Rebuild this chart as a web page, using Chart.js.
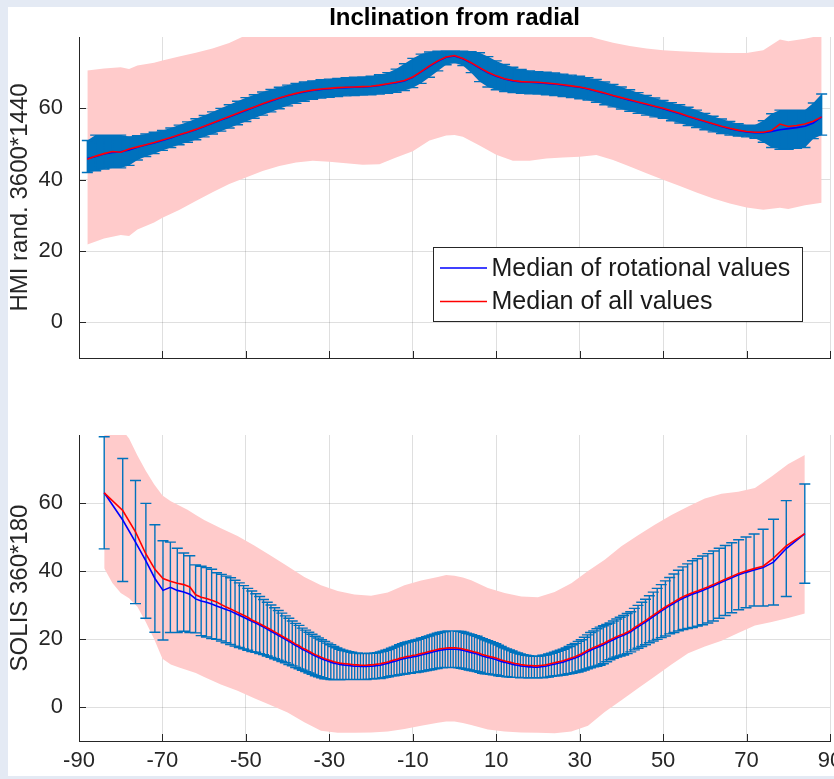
<!DOCTYPE html>
<html>
<head>
<meta charset="utf-8">
<title>Inclination from radial</title>
<script src="https://cdn.jsdelivr.net/npm/chart.js@4.4.1/dist/chart.umd.min.js"></script>
<style>
  html, body { margin: 0; padding: 0; background: #e4eaf4; }
  body { width: 834px; height: 779px; position: relative; overflow: hidden; }
  #sheet { position: absolute; left: 8px; top: 7px; width: 826px; height: 769px; background: #ffffff; }
  #hmi { position: absolute; left: 0; top: 0; }
  #solis { position: absolute; left: 0; top: 380px; }
</style>
</head>
<body>
<div id="sheet"></div>
<canvas id="hmi" width="834" height="380"></canvas>
<canvas id="solis" width="834" height="399"></canvas>
<script>
// ---- axis ticks ----
const xTickValues = [-90, -70, -50, -30, -10, 10, 30, 50, 70, 90];
const yTickValues = [0, 20, 40, 60];

// ---- HMI (3600*1440) panel ----
const hmiLat = [-88,-86,-84,-82,-80,-78,-76,-74,-72,-70,-68,-66,-64,-62,-60,-58,-56,-54,-52,-50,
  -48,-46,-44,-42,-40,-38,-36,-34,-32,-30,-28,-26,-24,-22,-20,-18,-16,-14,-12,-10,
  -8,-6,-4,-2,0,2,4,6,8,10,12,14,16,18,20,22,24,26,28,30,
  32,34,36,38,40,42,44,46,48,50,52,54,56,58,60,62,64,66,68,70,
  72,74,76,78,80,82,84,86,88];
const hmiRotational = [45.9,46.5,47.2,47.6,47.8,48.3,49.1,49.7,50.3,51.0,51.7,52.5,53.2,54.0,54.9,55.8,56.7,57.6,58.5,59.4,
  60.3,61.2,62.0,62.8,63.5,64.1,64.6,65.0,65.3,65.5,65.7,65.8,65.9,66.0,66.1,66.4,66.8,67.2,67.7,68.7,
  70.2,71.8,73.2,74.3,74.7,73.9,72.7,71.3,70.0,69.0,68.2,67.7,67.4,67.3,67.2,67.0,66.8,66.5,66.2,65.9,
  65.4,64.8,64.2,63.5,62.9,62.3,61.7,61.1,60.5,59.9,59.2,58.5,57.7,57.0,56.3,55.6,54.9,54.3,53.8,53.4,
  53.2,53.2,53.5,54.0,54.3,54.6,55.0,55.9,57.6];
const hmiAll = [45.7,46.6,47.3,47.9,47.7,48.6,49.2,49.8,50.4,51.1,51.8,52.6,53.3,54.1,55.0,55.9,56.8,57.7,58.6,59.5,
  60.4,61.3,62.1,62.9,63.6,64.2,64.7,65.1,65.4,65.6,65.8,65.9,66.0,66.1,66.2,66.5,66.9,67.3,67.8,68.8,
  70.3,71.9,73.3,74.4,74.8,74.0,72.8,71.4,70.1,69.1,68.3,67.8,67.5,67.4,67.3,67.1,66.9,66.6,66.3,66.0,
  65.5,64.9,64.3,63.6,63.0,62.4,61.8,61.2,60.6,60.0,59.3,58.6,57.8,57.1,56.4,55.7,55.0,54.4,53.9,53.5,
  53.3,53.3,53.8,55.6,54.9,55.2,55.6,56.4,57.6];
const hmiBarLow = [42.0,42.5,43.0,43.3,43.3,44.0,45.5,46.5,47.3,48.2,49.0,49.8,50.5,51.2,52.0,52.8,53.6,54.5,55.4,56.3,
  57.2,58.1,59.0,59.9,60.7,61.4,62.0,62.5,62.9,63.1,63.3,63.5,63.6,63.7,63.8,64.0,64.2,64.5,65.0,65.8,
  67.0,68.7,70.5,72.2,72.8,72.0,70.0,67.5,66.0,65.2,64.7,64.4,64.2,64.1,64.0,63.8,63.6,63.3,63.0,62.7,
  62.3,61.7,61.0,60.4,59.8,59.2,58.6,58.1,57.6,57.2,56.5,55.9,55.2,54.6,54.0,53.4,52.9,52.5,52.2,52.0,
  51.6,50.5,49.0,48.5,48.5,48.8,49.0,51.5,52.5];
const hmiBarHigh = [51.0,52.5,52.5,52.5,52.5,52.0,52.3,52.8,53.3,53.8,54.5,55.3,56.2,57.1,58.0,59.0,60.0,61.0,62.0,63.0,
  63.8,64.6,65.3,65.9,66.5,67.0,67.4,67.7,68.0,68.2,68.4,68.6,68.7,68.8,69.0,69.4,70.0,71.0,72.5,74.0,
  75.2,75.8,76.0,76.1,76.1,76.0,75.9,75.6,74.5,73.3,72.3,71.5,70.9,70.5,70.3,70.1,69.9,69.6,69.3,69.0,
  68.6,68.1,67.4,66.7,66.0,65.2,64.4,63.6,62.9,62.2,61.6,61.0,60.3,59.5,58.6,57.8,57.0,56.3,55.7,55.3,
  55.3,56.5,58.5,59.5,59.5,59.5,59.5,61.5,64.0];
const hmiSpreadLat = [-88,-84,-80,-78,-76,-72,-70,-66,-62,-58,-54,-50,-46,-42,-38,-34,-30,-26,-22,-18,
  -14,-10,-6,-2,0,2,6,10,14,18,22,26,30,34,38,42,46,50,54,58,62,66,70,74,78,80,84,88];
const hmiSpreadLow = [21.8,23.5,24.5,24.2,26.0,28.0,29.3,31.5,34.0,36.5,38.8,40.6,42.4,43.8,44.8,45.3,45.0,44.6,44.2,44.3,
  46.2,48.0,51.0,52.4,52.5,52.0,49.6,47.0,45.3,45.3,45.9,46.2,46.4,46.9,45.5,43.7,41.8,40.0,38.2,36.4,
  34.7,33.3,32.2,31.6,32.1,31.8,32.8,33.5];
const hmiSpreadHigh = [70.6,71.2,71.5,71.0,72.0,72.8,73.4,74.5,75.6,76.8,78.3,80.5,82,84,85,86,86,87,88,88,
  89,89,92,96,97,96,93,91,89,89,88,86,81,79.6,78.4,77.5,76.8,76.3,76.0,75.8,
  75.6,75.5,75.5,76.3,79.3,78.8,79.5,80.5];

// ---- SOLIS (360*180) panel ----
const solisLat = [-83.96,-79.52,-76.46,-73.97,-71.81,-69.87,-68.10,-66.44,-64.90,-63.44,
  -62.05,-60.72,-59.46,-58.21,-57.03,-55.87,-54.75,-53.67,-52.60,-51.57,
  -50.55,-49.56,-48.59,-47.64,-46.70,-45.78,-44.88,-43.99,-43.11,-42.24,
  -41.39,-40.54,-39.71,-38.89,-38.08,-37.27,-36.48,-35.69,-34.91,-34.14,
  -33.37,-32.61,-31.86,-31.11,-30.37,-29.64,-28.91,-28.18,-27.46,-26.75,
  -26.03,-25.33,-24.63,-23.93,-23.23,-22.54,-21.85,-21.17,-20.49,-19.81,
  -19.14,-18.46,-17.79,-17.13,-16.46,-15.80,-15.14,-14.48,-13.82,-13.17,
  -12.51,-11.86,-11.21,-10.56,-9.92,-9.27,-8.63,-7.98,-7.34,-6.70,
  -6.06,-5.42,-4.78,-4.14,-3.50,-2.87,-2.23,-1.59,-0.95,-0.32,
  0.32,0.95,1.59,2.23,2.87,3.50,4.14,4.78,5.42,6.06,
  6.70,7.34,7.98,8.63,9.27,9.92,10.56,11.21,11.86,12.51,
  13.17,13.82,14.48,15.14,15.80,16.46,17.13,17.79,18.46,19.14,
  19.81,20.49,21.17,21.85,22.54,23.23,23.93,24.63,25.33,26.03,
  26.75,27.46,28.18,28.91,29.64,30.37,31.11,31.86,32.61,33.37,
  34.14,34.91,35.69,36.48,37.27,38.08,38.89,39.71,40.54,41.39,
  42.24,43.11,43.99,44.88,45.78,46.70,47.64,48.59,49.56,50.55,
  51.57,52.60,53.67,54.75,55.87,57.03,58.21,59.46,60.72,62.05,
  63.44,64.90,66.44,68.10,69.87,71.81,73.97,76.46,79.52,83.96];
const solisRotational = [63.0,55.0,48.5,43.0,37.8,34.3,35.2,34.3,33.8,33.2,
  31.8,31.2,30.8,30.3,29.7,29.2,28.7,28.2,27.6,27.0,
  26.4,25.8,25.2,24.7,24.1,23.5,22.9,22.3,21.7,21.1,
  20.5,19.9,19.3,18.7,18.1,17.6,17.0,16.5,16.0,15.5,
  15.0,14.6,14.2,13.8,13.5,13.2,12.9,12.7,12.5,12.4,
  12.3,12.2,12.1,12.0,12.0,11.9,11.9,11.9,12.0,12.0,
  12.1,12.2,12.3,12.5,12.7,12.9,13.2,13.4,13.6,13.9,
  14.1,14.3,14.5,14.6,14.8,14.9,15.1,15.3,15.5,15.7,
  15.9,16.1,16.3,16.5,16.7,16.8,16.9,17.0,17.0,17.0,
  17.0,16.9,16.8,16.6,16.4,16.2,16.0,15.8,15.6,15.3,
  15.0,14.8,14.6,14.4,14.2,14.0,13.7,13.4,13.2,13.0,
  12.8,12.6,12.4,12.3,12.1,12.0,11.9,11.8,11.8,11.7,
  11.7,11.8,11.9,12.0,12.2,12.4,12.6,12.8,13.0,13.2,
  13.5,13.8,14.1,14.4,14.8,15.2,15.7,16.2,16.7,17.1,
  17.5,17.9,18.3,18.8,19.3,19.8,20.3,20.7,21.1,21.6,
  22.1,22.9,23.6,24.3,25.0,25.8,26.6,27.4,28.2,29.0,
  29.8,30.5,31.3,32.0,32.6,33.2,33.7,34.3,34.9,35.6,
  36.4,37.2,38.0,38.9,39.6,40.3,41.0,42.6,46.6,51.0];
const solisAll = [63.0,57.8,51.5,45.0,40.5,37.8,37.0,36.4,36.0,35.3,
  33.0,32.3,31.9,31.4,30.9,30.1,29.4,28.8,28.2,27.6,
  27.0,26.4,25.6,25.1,24.5,23.9,23.3,22.7,22.1,21.5,
  20.9,20.3,19.7,19.1,18.5,18.0,17.4,16.9,16.4,15.9,
  15.4,15.0,14.6,14.2,13.9,13.6,13.3,13.1,12.9,12.8,
  12.7,12.6,12.5,12.4,12.4,12.3,12.3,12.3,12.4,12.4,
  12.5,12.6,12.7,12.9,13.1,13.3,13.6,13.8,14.0,14.3,
  14.5,14.7,14.9,15.0,15.2,15.3,15.5,15.7,15.9,16.1,
  16.3,16.5,16.7,16.9,17.1,17.2,17.3,17.4,17.4,17.4,
  17.4,17.3,17.2,17.0,16.8,16.6,16.4,16.2,16.0,15.7,
  15.4,15.2,15.0,14.8,14.6,14.4,14.1,13.8,13.6,13.4,
  13.2,13.0,12.8,12.7,12.5,12.4,12.3,12.2,12.2,12.1,
  12.1,12.2,12.3,12.4,12.6,12.8,13.0,13.2,13.4,13.6,
  13.9,14.2,14.5,14.8,15.2,15.6,16.1,16.6,17.1,17.5,
  17.9,18.3,18.7,19.2,19.7,20.2,20.7,21.1,21.5,22.0,
  22.5,23.3,24.0,24.7,25.4,26.2,27.0,27.8,28.6,29.4,
  30.2,30.9,31.7,32.4,33.0,33.6,34.1,34.7,35.3,36.0,
  36.8,37.6,38.4,39.3,40.0,40.7,41.4,43.8,47.4,51.0];
const solisErr = [16.5,18.1,18.1,16.9,15.8,14.6,13.3,12.4,11.5,11.3,
  10.0,10.2,10.2,10.2,9.8,9.8,9.8,9.8,9.7,9.5,
  9.3,9.1,8.9,8.6,8.4,8.1,7.9,7.7,7.5,7.3,
  7.1,6.9,6.8,6.6,6.5,6.4,6.2,6.1,6.0,5.9,
  5.8,5.7,5.6,5.5,5.3,5.1,4.9,4.7,4.5,4.3,
  4.2,4.1,4.0,3.9,3.9,3.8,3.8,3.8,3.8,3.8,
  3.8,3.8,3.9,3.9,4.0,4.0,4.1,4.2,4.3,4.4,
  4.5,4.6,4.6,4.7,4.7,4.8,4.8,4.9,4.9,5.0,
  5.0,5.1,5.1,5.2,5.2,5.3,5.3,5.4,5.4,5.4,
  5.4,5.4,5.4,5.4,5.3,5.3,5.3,5.2,5.2,5.1,
  5.1,5.0,4.9,4.8,4.7,4.6,4.5,4.4,4.2,4.1,
  4.0,3.9,3.7,3.6,3.5,3.4,3.3,3.3,3.2,3.2,
  3.2,3.2,3.3,3.3,3.4,3.4,3.5,3.6,3.7,3.8,
  3.9,4.0,4.2,4.3,4.5,4.6,4.8,5.0,5.2,5.3,
  5.5,5.6,5.6,5.5,5.4,5.5,5.6,5.7,5.8,5.9,
  5.9,6.1,6.3,6.5,6.7,6.9,7.2,7.5,7.8,8.1,
  8.3,8.6,8.9,9.2,9.5,9.8,9.9,10.1,10.2,10.3,
  10.3,10.3,10.3,10.3,10.4,10.6,11.3,12.6,14.1,14.6];
const solisSpreadLat = [-83.96,-82,-80,-78,-76,-74,-72,-70,-68,-66,-64,-62,-60,-56,-52,-48,-44,-40,-36,-32,
  -28,-24,-20,-16,-12,-8,-4,-2,0,2,4,8,12,16,20,24,28,32,36,40,
  44,48,52,56,60,64,68,72,76,80,83.96];
const solisSpreadLow = [40.8,36.5,33.5,32.0,29.5,25.0,20.0,14.2,12.5,11.6,10.8,10.0,8.8,6.6,4.8,2.6,0.5,-1.6,-4.5,-7.0,
  -7.6,-7.6,-7.5,-7.2,-6.5,-5.5,-4.6,-4.3,-4.3,-4.7,-5.3,-6.6,-7.2,-7.5,-7.6,-7.7,-7.2,-5.5,-1.5,2.0,
  5.5,9.0,12.5,15.8,17.8,19.5,21.8,24.0,25.0,26.2,27.5];
const solisSpreadHigh = [85,84,82,79,74,69.5,65.5,62.2,60.5,59.3,58.0,56.5,55.0,52.6,50.3,47.5,44.5,41.4,38.2,35.8,
  34.1,33.1,32.7,33.7,35.8,37.2,38.2,38.8,38.6,38.1,37.3,35.0,33.5,32.5,32.3,33.8,36.4,40.0,43.3,47.3,
  50.5,53.6,56.5,59.0,61.3,62.7,63.3,64.4,67.8,71.5,74.1];

// ---- styling ----
const FONT = '"Liberation Sans", Arial, Helvetica, sans-serif';
const AXIS = '#262626';
const GRID = 'rgba(38,38,38,0.15)';
const BAR_BLUE = '#0072bd';
const SPREAD = '#ffcbcb';
const LINE_ROT = '#0000ff';
const LINE_ALL = '#ff0000';

const pts = (xs, ys) => xs.map((x, i) => ({ x, y: ys[i] }));

// vertical error bars with caps, drawn right after the given dataset
function errorBarPlugin(afterIndex, xs, lows, highs) {
  return {
    id: 'errorBars',
    afterDatasetDraw(chart, args) {
      if (args.index !== afterIndex) return;
      const { ctx, chartArea: a, scales: { x, y } } = chart;
      const cap = 5.5;
      ctx.save();
      ctx.beginPath();
      ctx.rect(a.left, a.top - 1, a.right - a.left, a.bottom - a.top + 1);
      ctx.clip();
      ctx.strokeStyle = BAR_BLUE;
      ctx.lineWidth = 1.4;
      ctx.beginPath();
      xs.forEach((v, i) => {
        const px = x.getPixelForValue(v);
        const y0 = y.getPixelForValue(lows[i]);
        const y1 = y.getPixelForValue(highs[i]);
        ctx.moveTo(px, y0); ctx.lineTo(px, y1);
        ctx.moveTo(px - cap, y0); ctx.lineTo(px + cap, y0);
        ctx.moveTo(px - cap, y1); ctx.lineTo(px + cap, y1);
      });
      ctx.stroke();
      ctx.restore();
    }
  };
}

// tick marks pointing into the plot area
const innerTicks = {
  id: 'innerTicks',
  afterDraw(chart) {
    const { ctx, chartArea: a, scales: { x, y } } = chart;
    ctx.save();
    ctx.strokeStyle = AXIS;
    ctx.lineWidth = 1;
    ctx.beginPath();
    x.ticks.forEach(t => {
      const px = Math.round(x.getPixelForValue(t.value)) + 0.5;
      ctx.moveTo(px, a.bottom); ctx.lineTo(px, a.bottom - 7);
    });
    y.ticks.forEach(t => {
      const py = Math.round(y.getPixelForValue(t.value)) + 0.5;
      ctx.moveTo(a.left, py); ctx.lineTo(a.left + 7, py);
    });
    ctx.stroke();
    ctx.restore();
  }
};

// boxed legend inside the upper plot
const boxedLegend = {
  id: 'boxedLegend',
  afterDraw(chart) {
    const { ctx, chartArea: a } = chart;
    const items = chart.data.datasets.filter(d => d.inLegend);
    const x0 = Math.round(a.left + 354) + 0.5, y0 = Math.round(a.top + 210) + 0.5;
    const w = 369, h = 74;
    ctx.save();
    ctx.fillStyle = '#ffffff';
    ctx.fillRect(x0, y0, w, h);
    ctx.strokeStyle = AXIS;
    ctx.lineWidth = 1;
    ctx.strokeRect(x0, y0, w, h);
    ctx.font = '25px ' + FONT;
    ctx.textBaseline = 'middle';
    items.forEach((d, i) => {
      const ry = y0 + 20.5 + i * 33.5;
      ctx.strokeStyle = d.borderColor;
      ctx.lineWidth = 1.6;
      ctx.beginPath(); ctx.moveTo(x0 + 6.5, ry); ctx.lineTo(x0 + 53.5, ry); ctx.stroke();
      ctx.fillStyle = '#1a1a1a';
      ctx.fillText(d.label, x0 + 58, ry + 1);
    });
    ctx.restore();
  }
};

function axes(yTitle, showXLabels, xAxisHeight) {
  return {
    x: {
      type: 'linear', min: -90, max: 90, z: 1,
      afterBuildTicks: s => { s.ticks = xTickValues.map(v => ({ value: v })); },
      afterFit: s => { s.height = xAxisHeight; s.paddingLeft = 0; s.paddingRight = 0; },
      grid: { color: GRID, lineWidth: 1, drawTicks: false },
      border: { display: true, color: AXIS, width: 1 },
      ticks: { display: showXLabels, color: AXIS, padding: 7, maxRotation: 0, autoSkip: false,
               font: { family: FONT, size: 22 } }
    },
    y: {
      type: 'linear', min: -10, max: 80, z: 1,
      afterBuildTicks: s => { s.ticks = yTickValues.map(v => ({ value: v })); },
      afterFit: s => { s.width = 79; s.paddingTop = 0; s.paddingBottom = 0; },
      grid: { color: GRID, lineWidth: 1, drawTicks: false },
      border: { display: true, color: AXIS, width: 1 },
      ticks: { color: AXIS, padding: 16, font: { family: FONT, size: 22 } },
      title: { display: true, text: yTitle, color: AXIS, padding: { top: 6, bottom: 0 },
               font: { family: FONT, size: 24 } }
    }
  };
}

const common = {
  responsive: false,
  animation: false,
  events: [],
  elements: { point: { radius: 0 }, line: { tension: 0 } }
};

const hidden = 'rgba(0,0,0,0)';

// upper panel
new Chart(document.getElementById('hmi'), {
  type: 'line',
  data: {
    datasets: [
      { data: pts(hmiSpreadLat, hmiSpreadLow), borderColor: hidden, fill: false, order: 4 },
      { data: pts(hmiSpreadLat, hmiSpreadHigh), borderColor: hidden, backgroundColor: SPREAD, fill: '-1', order: 4 },
      { data: pts(hmiLat, hmiBarLow), borderColor: hidden, fill: false, order: 3 },
      { data: pts(hmiLat, hmiBarHigh), borderColor: hidden, backgroundColor: BAR_BLUE, fill: '-1', order: 3 },
      { label: 'Median of rotational values', inLegend: true, data: pts(hmiLat, hmiRotational),
        borderColor: LINE_ROT, borderWidth: 1.6, fill: false, order: 2 },
      { label: 'Median of all values', inLegend: true, data: pts(hmiLat, hmiAll),
        borderColor: LINE_ALL, borderWidth: 1.6, fill: false, order: 1 }
    ]
  },
  options: Object.assign({}, common, {
    layout: { padding: { left: 0, right: 4, top: 0, bottom: 0 } },
    scales: axes('HMI rand. 3600*1440', false, 22),
    plugins: {
      legend: { display: false },
      tooltip: { enabled: false },
      title: { display: true, text: 'Inclination from radial', fullSize: false, color: '#000000',
               padding: { top: 4, bottom: 4.2 }, font: { family: FONT, size: 24, weight: 'bold' } }
    }
  }),
  plugins: [errorBarPlugin(3, hmiLat, hmiBarLow, hmiBarHigh), innerTicks, boxedLegend]
});

// lower panel
const solisBarLow = solisRotational.map((v, i) => v - solisErr[i]);
const solisBarHigh = solisRotational.map((v, i) => v + solisErr[i]);

new Chart(document.getElementById('solis'), {
  type: 'line',
  data: {
    datasets: [
      { data: pts(solisSpreadLat, solisSpreadLow), borderColor: hidden, fill: false, order: 4 },
      { data: pts(solisSpreadLat, solisSpreadHigh), borderColor: hidden, backgroundColor: SPREAD, fill: '-1', order: 4 },
      { label: 'Median of rotational values', data: pts(solisLat, solisRotational),
        borderColor: LINE_ROT, borderWidth: 1.6, fill: false, order: 2 },
      { label: 'Median of all values', data: pts(solisLat, solisAll),
        borderColor: LINE_ALL, borderWidth: 1.6, fill: false, order: 1 }
    ]
  },
  options: Object.assign({}, common, {
    layout: { padding: { left: 0, right: 4, top: 55, bottom: 0 } },
    scales: axes('SOLIS 360*180', true, 38),
    plugins: { legend: { display: false }, tooltip: { enabled: false } }
  }),
  plugins: [errorBarPlugin(1, solisLat, solisBarLow, solisBarHigh), innerTicks]
});
</script>
</body>
</html>
